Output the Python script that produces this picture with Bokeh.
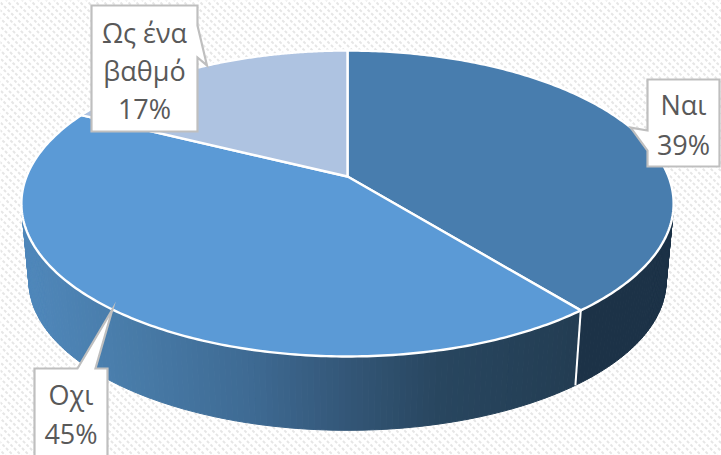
import numpy as np
from bokeh.core.properties import value
from bokeh.embed import file_html
from bokeh.models import Range1d
from bokeh.plotting import figure
from bokeh.resources import INLINE

# Survey answers and their printed percentages
categories = ["Ναι", "Οχι", "Ως ένα βαθμό"]
label_lines = [["Ναι"], ["Οχι"], ["Ως ένα", "βαθμό"]]
shares = [39, 45, 17]
top_colors = ["#487DAE", "#5B9AD6", "#AEC3E1"]

W, H = 721, 455

# Camera of the tilted disc: apex, half-width, half-depth and perspective strength
CX, APEX_Y = 347.0, 176.0
A, B, K = 321.0, 148.2, 0.1765
LENS_BEND = 0.058
# The underside of the slab sits lower and slightly further away
FLOOR_SCALE, FLOOR_Y = 0.977, 254.0


def rim(theta, scale=1.0, y0=APEX_Y, bend=LENS_BEND):
    """Project a clockwise-from-north angle onto a disc rim, in screen pixels."""
    t = np.asarray(theta, dtype=float)
    t = t + bend * np.sin(t)
    u, v = np.sin(t), np.cos(t)
    w = 1 + K * v
    return CX + scale * A * u / w, y0 - scale * B * v / w


fractions = np.array(shares, dtype=float) / sum(shares)
edges = np.concatenate([[0.0], np.cumsum(fractions)]) * 2 * np.pi

p = figure(
    width=W, height=H, output_backend="svg", toolbar_location=None,
    x_range=Range1d(0, W), y_range=Range1d(H, 0),
    x_axis_type=None, y_axis_type=None, min_border=0,
    background_fill_color="white", border_fill_color="white",
    outline_line_color=None,
)
p.grid.visible = False

# Diagonal hatching of the chart area
offsets = np.arange(-H - 8, W + 8, 8)
p.multi_line(
    xs=[[c, c + H + 10] for c in offsets], ys=[[-5, H + 5] for _ in offsets],
    line_color="#E6E6E6", line_width=2.0, line_dash="3 2",
)


def mix(stops, x):
    rgb = [np.interp(x, [s[0] for s in stops], [int(s[1][i:i + 2], 16) for s in stops]) for i in (1, 3, 5)]
    return "#%02x%02x%02x" % tuple(int(round(c)) for c in rgb)


# Side wall of the slab: narrow strips around the near half, shaded by position
WALL_FLAT = "#1C3247"
WALL_STOPS = [(25, "#4F87BA"), (130, "#487BA8"), (250, "#3E6A93"),
              (347, "#335677"), (440, "#28465F"), (575, "#233D53")]
strip_edges = np.linspace(np.radians(55), np.radians(305), 260)
xs, ys, fills = [], [], []
for t0, t1 in zip(strip_edges[:-1], strip_edges[1:]):
    x_top, y_top = rim([t0, t1])
    x_bot, y_bot = rim([t1, t0], FLOOR_SCALE, FLOOR_Y)
    xs.append(list(x_top) + list(x_bot))
    ys.append(list(y_top) + list(y_bot))
    mid = (t0 + t1) / 2
    fills.append(WALL_FLAT if mid < edges[1] else mix(WALL_STOPS, float(rim(mid)[0])))
p.patches(xs, ys, fill_color=fills, line_color=fills, line_width=1)

# Seam where the first two slices meet on the wall
sx0, sy0 = rim(edges[1])
sx1, sy1 = rim(edges[1], FLOOR_SCALE, FLOOR_Y)
p.line([float(sx0), float(sx1)], [float(sy0), float(sy1)], line_color="white", line_width=2)

# Upper face of the pie
for a0, a1, color in zip(edges[:-1], edges[1:], top_colors):
    t = np.linspace(a0, a1, 200)
    rx, ry = rim(t)
    p.patch(
        [CX] + list(rx), [APEX_Y] + list(ry),
        fill_color=color, line_color="white", line_width=2.4, line_join="round",
    )

# Callout boxes: left, right, top, bottom, then pointer base points and baselines
BOX_GEOMETRY = [
    dict(box=(647, 719, 79, 166), base=[(647, 150), (647, 130)], cx=683, base_y=104),
    dict(box=(34, 107, 368, 462), base=[(77, 368), (95, 368)], cx=70.5, base_y=394),
    dict(box=(91, 197, 5, 131), base=[(197, 25), (197, 57)], cx=144, base_y=32),
]
LINE_STEP = [39.5, 39, 38]

mids = (edges[:-1] + edges[1:]) / 2
for i, geo in enumerate(BOX_GEOMETRY):
    l, r, t, b = geo["box"]
    tx, ty = rim(mids[i], bend=0.0)
    tip = (float(tx), float(ty))
    (b0, b1) = geo["base"]
    if i == 0:
        outline = [(l, t), (r, t), (r, b), (l, b), b0, tip, b1]
    elif i == 1:
        outline = [(l, t), b0, tip, b1, (r, t), (r, b), (l, b)]
    else:
        outline = [(l, t), (r, t), b0, tip, b1, (r, b), (l, b)]
    p.patch(
        [q[0] for q in outline], [q[1] for q in outline],
        fill_color="white", line_color="#BFBFBF", line_width=2.2, line_join="miter",
    )
    rows = label_lines[i] + [f"{shares[i]}%"]
    p.text(
        x=[geo["cx"]] * len(rows),
        y=[geo["base_y"] + n * LINE_STEP[i] for n in range(len(rows))],
        text=rows, text_font=value("Open Sans"), text_font_size="27px",
        text_color="#595959", text_align="center", text_baseline="alphabetic",
    )

open("out.html", "w").write(file_html(p, INLINE))
